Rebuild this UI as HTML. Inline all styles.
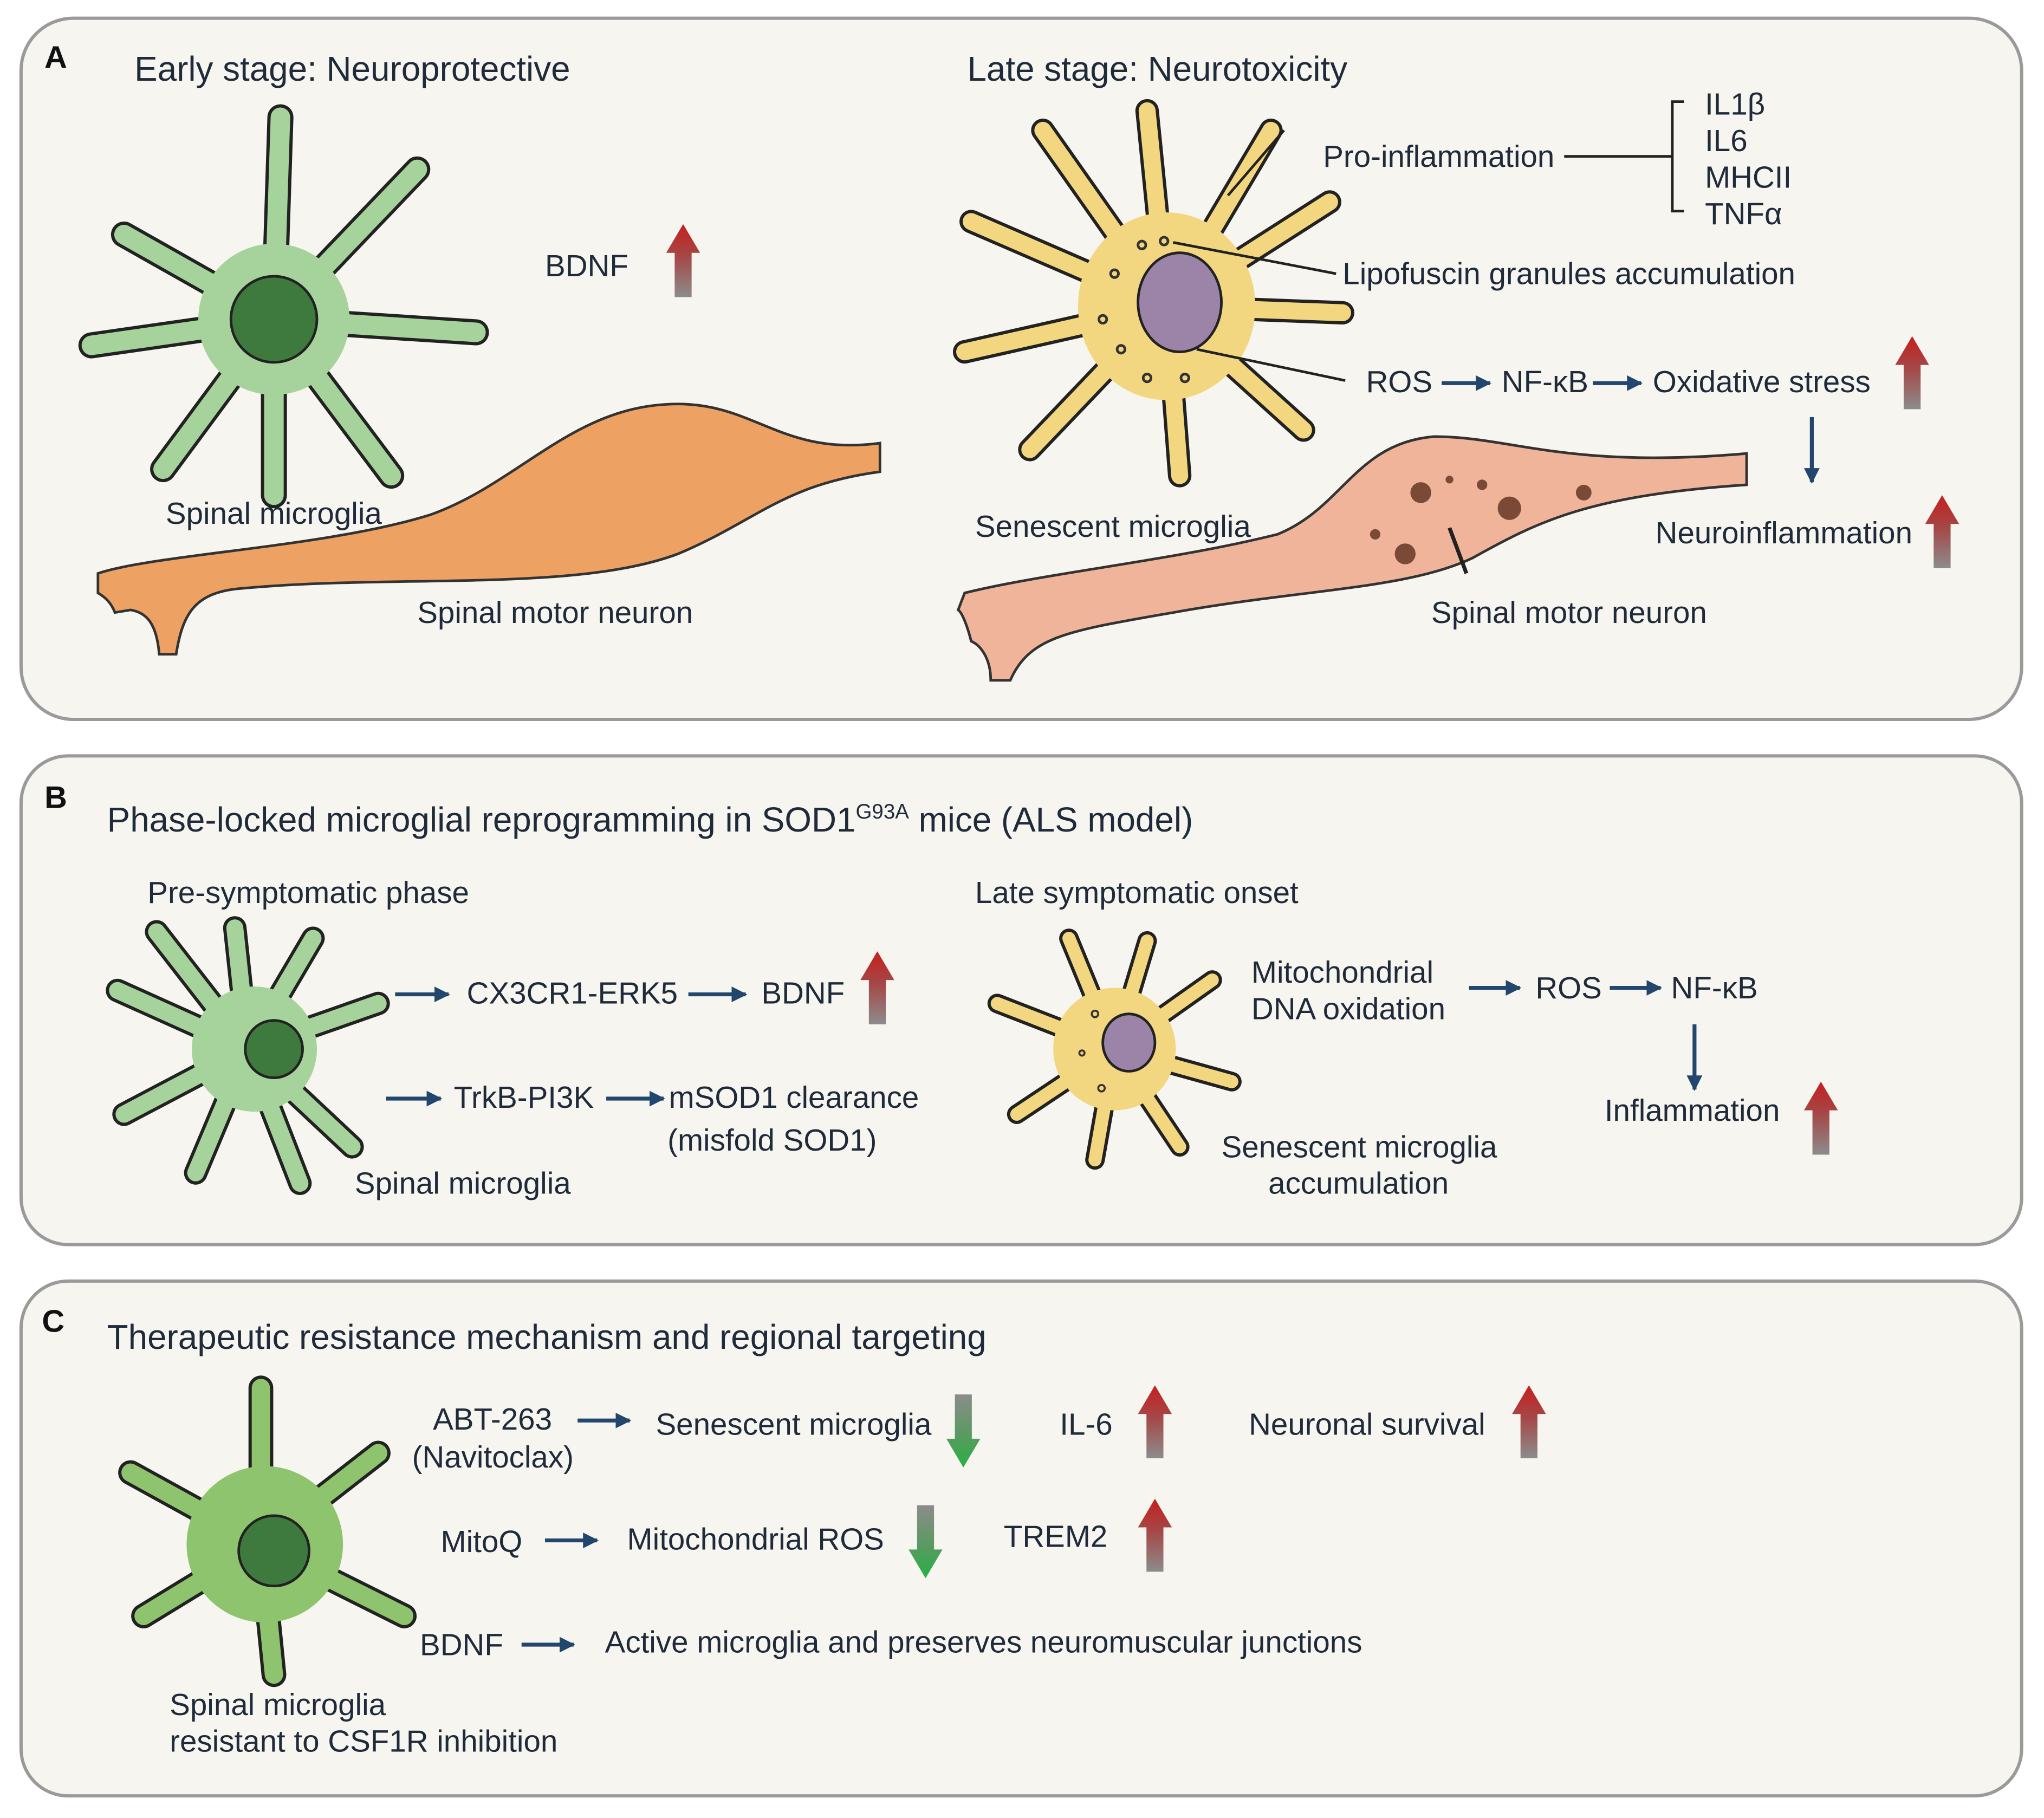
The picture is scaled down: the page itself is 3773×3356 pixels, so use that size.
<!DOCTYPE html>
<html><head><meta charset="utf-8"><style>html,body{margin:0;padding:0;background:#fff}svg{display:block}</style></head><body>
<svg xmlns="http://www.w3.org/2000/svg" width="3773" height="3356" viewBox="0 0 1568 1395" font-family="Liberation Sans, Arial, sans-serif" fill="#1f2a3a">
<defs>
<linearGradient id="up" x1="0" y1="0" x2="0" y2="1"><stop offset="0" stop-color="#c4201e"/><stop offset="0.45" stop-color="#a54848"/><stop offset="1" stop-color="#8c8c8c"/></linearGradient>
<linearGradient id="dn" x1="0" y1="0" x2="0" y2="1"><stop offset="0" stop-color="#8c8c8c"/><stop offset="0.55" stop-color="#5a9a62"/><stop offset="1" stop-color="#27b043"/></linearGradient>
<marker id="ah" viewBox="0 0 10 10" refX="9" refY="5" markerWidth="4" markerHeight="4" orient="auto"><path d="M0,0 L10,5 L0,10 z" fill="#23466e"/></marker>
<path id="upA" d="M0,0 L13,22 L6.5,22 L6.5,56 L-6.5,56 L-6.5,22 L-13,22 Z" fill="url(#up)"/>
<path id="dnA" d="M0,56 L13,34 L6.5,34 L6.5,0 L-6.5,0 L-6.5,34 L-13,34 Z" fill="url(#dn)"/>
</defs>
<rect width="1568" height="1395" fill="#fff"/>
<rect x="16" y="14" width="1535" height="538" rx="40" fill="#f7f5ef" stroke="#9a9a9a" stroke-width="2.5"/>
<rect x="16" y="580" width="1535" height="375" rx="36" fill="#f7f5ef" stroke="#9a9a9a" stroke-width="2.5"/>
<rect x="16" y="983" width="1535" height="395" rx="36" fill="#f7f5ef" stroke="#9a9a9a" stroke-width="2.5"/>

<g font-size="24" font-weight="bold" fill="#111"><text x="34" y="52">A</text><text x="34" y="620">B</text><text x="32" y="1022">C</text></g>

<!-- Panel A -->
<g font-size="26.5"><text x="103" y="62">Early stage: Neuroprotective</text><text x="742" y="62">Late stage: Neurotoxicity</text></g>

<g stroke-linecap="round">
<g stroke="#222" stroke-width="20"><path d="M210,245 L215,90 M210,245 L320,130 M210,245 L365,255 M210,245 L300,365 M210,245 L210,380 M210,245 L125,360 M210,245 L70,265 M210,245 L95,180"/></g>
<g stroke="#a6d39c" stroke-width="15"><path d="M210,245 L215,90 M210,245 L320,130 M210,245 L365,255 M210,245 L300,365 M210,245 L210,380 M210,245 L125,360 M210,245 L70,265 M210,245 L95,180"/></g>
</g>
<circle cx="210" cy="245" r="58" fill="#a6d39c"/>
<circle cx="210" cy="245" r="33" fill="#3e7a3e" stroke="#222" stroke-width="2"/>
<text x="127" y="402" font-size="23.5">Spinal microglia</text>

<path d="M75,440 C120,425 250,420 330,395 C400,370 440,310 520,310 C580,310 600,350 675,340 L675,362 C600,372 580,400 520,425 C440,455 300,440 180,452 C150,456 140,470 135,502 L122,502 C120,478 112,470 100,468 L88,470 C85,462 80,458 75,455 Z" fill="#eda163" stroke="#333" stroke-width="2"/>
<g font-size="23.5"><text x="320" y="478">Spinal motor neuron</text>
<text x="418" y="212">BDNF</text></g>
<use href="#upA" transform="translate(524,172)"/>

<g stroke-linecap="round">
<g stroke="#222" stroke-width="18"><path d="M895,235 L880,85 M895,235 L975,100 M895,235 L1020,155 M895,235 L1030,240 M895,235 L1000,330 M895,235 L905,365 M895,235 L790,345 M895,235 L740,270 M895,235 L745,170 M895,235 L800,100"/></g>
<g stroke="#f3d680" stroke-width="13"><path d="M895,235 L880,85 M895,235 L975,100 M895,235 L1020,155 M895,235 L1030,240 M895,235 L1000,330 M895,235 L905,365 M895,235 L790,345 M895,235 L740,270 M895,235 L745,170 M895,235 L800,100"/></g>
</g>
<ellipse cx="895" cy="235" rx="68" ry="72" fill="#f3d680"/>
<ellipse cx="905" cy="232" rx="32" ry="38" fill="#9b84a8" stroke="#222" stroke-width="2"/>
<g fill="none" stroke="#333" stroke-width="2"><circle cx="876" cy="188" r="3"/><circle cx="893" cy="185" r="3"/><circle cx="855" cy="210" r="3"/><circle cx="846" cy="245" r="3"/><circle cx="860" cy="268" r="3"/><circle cx="880" cy="290" r="3"/><circle cx="909" cy="290" r="3"/></g>
<g stroke="#222" stroke-width="2" fill="none"><path d="M942,150 L985,100 M900,186 L1025,210 M918,268 L1032,292 M1200,120 L1283,120 M1292,78 L1283,78 L1283,162 L1292,162"/></g>
<g font-size="23.5"><text x="1015" y="128">Pro-inflammation</text><text x="1308" y="88">IL1β</text><text x="1308" y="116">IL6</text><text x="1308" y="144">MHCII</text><text x="1308" y="172">TNFα</text>
<text x="1030" y="218">Lipofuscin granules accumulation</text>
<text x="1048" y="301">ROS</text><text x="1152" y="301">NF-κB</text><text x="1268" y="301">Oxidative stress</text>
<text x="1270" y="417">Neuroinflammation</text>
<text x="748" y="412">Senescent microglia</text>
<text x="1098" y="478">Spinal motor neuron</text></g>
<g stroke="#23466e" stroke-width="3" marker-end="url(#ah)"><line x1="1106" y1="294" x2="1143" y2="294"/><line x1="1222" y1="294" x2="1259" y2="294"/><line x1="1390" y1="320" x2="1390" y2="370"/></g>
<use href="#upA" transform="translate(1467,258)"/>
<use href="#upA" transform="translate(1490,380)"/>

<path d="M740,455 C800,440 900,430 980,410 C1030,390 1040,340 1100,335 C1160,335 1200,360 1340,348 L1340,372 C1220,380 1180,400 1130,428 C1080,452 1000,452 900,470 C820,484 790,488 775,522 L760,522 C760,505 752,495 745,492 C742,480 738,470 735,468 Z" fill="#f0b49b" stroke="#333" stroke-width="2"/>
<g fill="#7a4a36"><circle cx="1090" cy="378" r="8"/><circle cx="1158" cy="390" r="9"/><circle cx="1137" cy="372" r="4"/><circle cx="1215" cy="378" r="6"/><circle cx="1078" cy="425" r="8"/><circle cx="1055" cy="410" r="4"/><circle cx="1112" cy="368" r="3"/></g>
<path d="M1112,405 L1125,440" stroke="#222" stroke-width="3"/>

<!-- Panel B -->
<text x="82" y="638" font-size="26.5">Phase-locked microglial reprogramming in SOD1<tspan font-size="16" dy="-10">G93A</tspan><tspan dy="10"> mice (ALS model)</tspan></text>
<g font-size="23.5"><text x="113" y="693">Pre-symptomatic phase</text><text x="748" y="693">Late symptomatic onset</text></g>
<g stroke-linecap="round">
<g stroke="#222" stroke-width="18"><path d="M190,805 L180,712 M190,805 L240,720 M190,805 L290,770 M190,805 L270,880 M190,805 L230,908 M190,805 L150,900 M190,805 L95,855 M190,805 L90,760 M190,805 L120,715"/></g>
<g stroke="#a6d39c" stroke-width="13"><path d="M190,805 L180,712 M190,805 L240,720 M190,805 L290,770 M190,805 L270,880 M190,805 L230,908 M190,805 L150,900 M190,805 L95,855 M190,805 L90,760 M190,805 L120,715"/></g>
</g>
<circle cx="195" cy="805" r="48" fill="#a6d39c"/>
<circle cx="210" cy="805" r="22" fill="#3e7a3e" stroke="#222" stroke-width="2"/>
<g font-size="23.5"><text x="358" y="770">CX3CR1-ERK5</text><text x="584" y="770">BDNF</text><text x="348" y="850">TrkB-PI3K</text><text x="513" y="850">mSOD1 clearance</text><text x="512" y="883">(misfold SOD1)</text><text x="272" y="916">Spinal microglia</text></g>
<g stroke="#23466e" stroke-width="3" marker-end="url(#ah)"><line x1="303" y1="763" x2="344" y2="763"/><line x1="528" y1="763" x2="572" y2="763"/><line x1="296" y1="843" x2="338" y2="843"/><line x1="465" y1="843" x2="509" y2="843"/></g>
<use href="#upA" transform="translate(673,730)"/>

<g stroke-linecap="round">
<g stroke="#222" stroke-width="15"><path d="M855,805 L820,720 M855,805 L880,722 M855,805 L930,752 M855,805 L945,830 M855,805 L905,880 M855,805 L840,890 M855,805 L780,855 M855,805 L765,770"/></g>
<g stroke="#f3d680" stroke-width="10"><path d="M855,805 L820,720 M855,805 L880,722 M855,805 L930,752 M855,805 L945,830 M855,805 L905,880 M855,805 L840,890 M855,805 L780,855 M855,805 L765,770"/></g>
</g>
<circle cx="855" cy="805" r="47" fill="#f3d680"/>
<ellipse cx="866" cy="800" rx="20" ry="22" fill="#9b84a8" stroke="#222" stroke-width="2"/>
<g fill="none" stroke="#333" stroke-width="1.5"><circle cx="840" cy="778" r="2.5"/><circle cx="830" cy="808" r="2"/><circle cx="845" cy="835" r="2.5"/></g>
<g font-size="23.5"><text x="960" y="754">Mitochondrial</text><text x="960" y="782">DNA oxidation</text><text x="1178" y="766">ROS</text><text x="1282" y="766">NF-κB</text><text x="1231" y="860">Inflammation</text><text x="937" y="888">Senescent microglia</text><text x="973" y="916">accumulation</text></g>
<g stroke="#23466e" stroke-width="3" marker-end="url(#ah)"><line x1="1127" y1="758" x2="1166" y2="758"/><line x1="1235" y1="758" x2="1274" y2="758"/><line x1="1300" y1="786" x2="1300" y2="836"/></g>
<use href="#upA" transform="translate(1397,830)"/>

<!-- Panel C -->
<text x="82" y="1035" font-size="26.5">Therapeutic resistance mechanism and regional targeting</text>
<g stroke-linecap="round">
<g stroke="#222" stroke-width="19"><path d="M200,1185 L200,1065 M200,1185 L290,1115 M200,1185 L310,1240 M200,1185 L210,1285 M200,1185 L110,1240 M200,1185 L100,1130"/></g>
<g stroke="#8fc46f" stroke-width="14"><path d="M200,1185 L200,1065 M200,1185 L290,1115 M200,1185 L310,1240 M200,1185 L210,1285 M200,1185 L110,1240 M200,1185 L100,1130"/></g>
</g>
<circle cx="203" cy="1185" r="60" fill="#8fc46f"/>
<circle cx="210" cy="1190" r="27" fill="#3e7a3e" stroke="#222" stroke-width="2"/>
<g font-size="23.5"><text x="130" y="1316">Spinal microglia</text><text x="130" y="1344">resistant to CSF1R inhibition</text>
<text x="332" y="1097">ABT-263</text><text x="316" y="1126">(Navitoclax)</text><text x="503" y="1101">Senescent microglia</text><text x="813" y="1101">IL-6</text><text x="958" y="1101">Neuronal survival</text>
<text x="338" y="1191">MitoQ</text><text x="481" y="1189">Mitochondrial ROS</text><text x="770" y="1187">TREM2</text>
<text x="322" y="1270">BDNF</text><text x="464" y="1268">Active microglia  and preserves neuromuscular junctions</text></g>
<g stroke="#23466e" stroke-width="3" marker-end="url(#ah)"><line x1="443" y1="1090" x2="483" y2="1090"/><line x1="418" y1="1182" x2="458" y2="1182"/><line x1="400" y1="1262" x2="440" y2="1262"/></g>
<use href="#dnA" transform="translate(739,1070)"/>
<use href="#dnA" transform="translate(710,1155)"/>
<use href="#upA" transform="translate(886,1063)"/>
<use href="#upA" transform="translate(1173,1063)"/>
<use href="#upA" transform="translate(886,1150)"/>
</svg>
</body></html>
